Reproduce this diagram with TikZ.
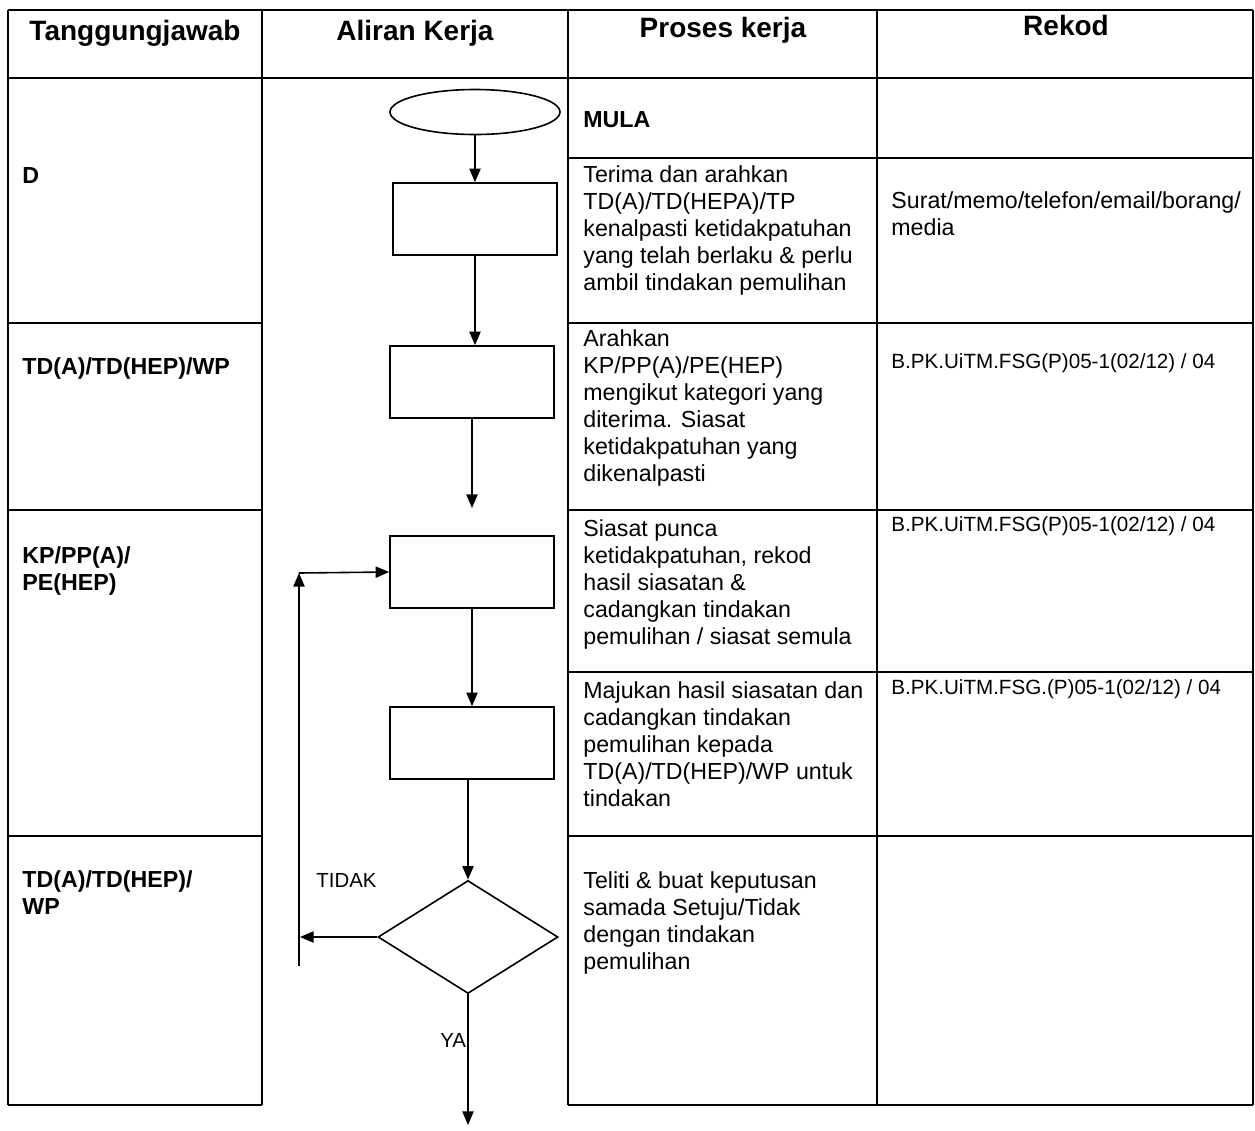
\documentclass[tikz,border=0pt]{standalone}
\usepackage{fontspec}
\setmainfont{Liberation Sans}
\usepackage{tikz}
\usetikzlibrary{arrows.meta,shapes.geometric}
\tikzset{
akhead/.style={font=\fontsize{14}{16}\selectfont\bfseries,anchor=base,inner sep=0pt},
aktext/.style={font=\fontsize{11.6}{13.5}\selectfont,align=left,anchor=base west,inner sep=0pt},
akpara/.style={aktext,anchor=north west},
akbold/.style={aktext,font=\fontsize{11.6}{13.5}\selectfont\bfseries},
akboldpara/.style={akbold,anchor=north west},
akrec/.style={aktext,font=\fontsize{10.3}{12}\selectfont},
aklabel/.style={font=\fontsize{10.2}{12}\selectfont,anchor=base west,inner sep=0pt},
akgrid/.style={line width=0.75pt},
akbox/.style={rectangle,draw,line width=0.8pt,minimum width=82pt,minimum height=36pt,inner sep=0pt},
akstart/.style={ellipse,draw,line width=0.8pt,minimum width=85pt,minimum height=22.5pt,inner sep=0pt},
akdec/.style={diamond,draw,line width=0.8pt,minimum width=90pt,minimum height=56.5pt,inner sep=0pt},
akarr/.style={-{Triangle[length=6.8pt,width=5.6pt]},line width=0.8pt}
}

\begin{document}
\begin{tikzpicture}[
x=0.5pt,
y=-0.5pt
]
\useasboundingbox (0,0) rectangle (1255,1131);
% table rules
\draw[akgrid] (8,10) -- (1253,10);
\draw[akgrid] (8,78) -- (1253,78);
\foreach \xx in {8,262,568,877,1253}
  \draw[akgrid] (\xx,10) -- (\xx,1105);
\foreach \yy in {323,510,836,1105}
  \draw[akgrid] (8,\yy) -- (262,\yy);
\foreach \yy in {158,323,510,672,836,1105}
  \draw[akgrid] (568,\yy) -- (1253,\yy);
% headers
\node[akhead] (hTang) at (135,40) {Tanggungjawab};
\node[akhead] (hAliran) at (415,40) {Aliran Kerja};
\node[akhead] (hProses) at (723,37) {Proses kerja};
\node[akhead] (hRekod) at (1066,35) {Rekod};
% tanggungjawab
\node[akbold] (tD) at (22,183) {D};
\node[akbold] (tTDa) at (22,374) {TD(A)/TD(HEP)/WP};
\node[akboldpara] (tKP) at (22,546) {KP/PP(A)/\\PE(HEP)};
\node[akboldpara] (tTDb) at (22,870) {TD(A)/TD(HEP)/\\WP};
% proses kerja
\node[akbold] (pMula) at (583,127) {MULA};
\node[akpara] (pTerima) at (583,165) {Terima dan arahkan\\TD(A)/TD(HEPA)/TP\\kenalpasti ketidakpatuhan\\yang telah berlaku \& perlu\\ambil tindakan pemulihan};
\node[akpara] (pArahkan) at (583,329) {Arahkan\\KP/PP(A)/PE(HEP)\\mengikut kategori yang\\diterima. Siasat\\ketidakpatuhan yang\\dikenalpasti};
\node[akpara] (pSiasat) at (583,519) {Siasat punca\\ketidakpatuhan, rekod\\hasil siasatan \&\\cadangkan tindakan\\pemulihan / siasat semula};
\node[akpara] (pMajukan) at (583,681) {Majukan hasil siasatan dan\\cadangkan tindakan\\pemulihan kepada\\TD(A)/TD(HEP)/WP untuk\\tindakan};
\node[akpara] (pTeliti) at (583,871) {Teliti \& buat keputusan\\samada Setuju/Tidak\\dengan tindakan\\pemulihan};
% rekod
\node[akpara] (rSurat) at (891,191) {Surat/memo/telefon/email/borang/\\media};
\node[akrec] (rArahkan) at (891,368) {B.PK.UiTM.FSG(P)05-1(02/12) / 04};
\node[akrec] (rSiasat) at (891,531) {B.PK.UiTM.FSG(P)05-1(02/12) / 04};
\node[akrec] (rMajukan) at (891,694) {B.PK.UiTM.FSG.(P)05-1(02/12) / 04};
% aliran kerja
\node[akstart] (start) at (475,112) {};
\node[akbox] (terima) at (475,219) {};
\node[akbox] (arahkan) at (472,382) {};
\node[akbox] (siasat) at (472,572) {};
\node[akbox] (majukan) at (472,743) {};
\node[akdec] (teliti) at (468,937) {};
\coordinate (gapend) at (472,508);
\coordinate (tidakend) at (300,937);
\coordinate (loopbot) at (299,966);
\coordinate (loopcorner) at (299,573);
\coordinate (yaend) at (468,1125);
\node[aklabel] (lTidak) at (316,887) {TIDAK};
\node[aklabel] (lYa) at (440,1047) {YA};
\draw[akarr] (start)--(terima);
\draw[akarr] (terima.south)--(terima.south |- arahkan.north);
\draw[akarr] (arahkan.south)--(gapend);
\draw[akarr] (siasat)--(majukan);
\draw[akarr] (majukan.south -| teliti.north)--(teliti.north);
\draw[akarr] (teliti.west)--(tidakend);
\draw[akarr] (loopbot)--(loopcorner);
\draw[akarr] (loopcorner)--(siasat.west);
\draw[akarr] (teliti.south)--(yaend);
\end{tikzpicture}
\end{document}
